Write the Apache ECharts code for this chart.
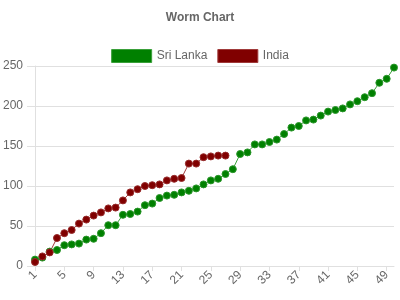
<!DOCTYPE html>
<html>
<head>
<meta charset="utf-8">
<script src="https://cdn.jsdelivr.net/npm/echarts@6/dist/echarts.min.js"></script>
<style>html,body{margin:0;padding:0;background:#fff}#c{width:400px;height:300px}</style>
</head>
<body>
<div id="c"></div>
<script>
const overs = Array.from({length: 50}, (_, i) => String(i + 1));
const sriLanka = [8, 10.5, 18, 20, 26, 27, 28, 33, 34, 41, 51, 51, 64, 65, 68, 76, 78, 85, 88, 89, 92, 94, 97, 102, 107, 109, 115, 121, 140, 142, 152, 152, 155, 158, 165, 173, 175, 182, 183, 188, 193, 195, 197, 202, 206, 211, 216, 229, 234, 248];
const india = [5, 12, 17, 35, 41, 45, 53, 58, 63, 67, 72, 73, 82, 92, 96, 100, 101, 102, 107, 109, 110, 128, 128, 136, 137, 138, 138];
const seriesNames = ['Sri Lanka', 'India'];
const yTicks = [0, 50, 100, 150, 200, 250];

const chart = echarts.init(document.getElementById('c'), null, {renderer: 'canvas'});
const font = 'Liberation Sans, Arial, Helvetica, sans-serif';
chart.setOption({
  animation: false,
  title: {
    text: 'Worm Chart', left: 'center', top: 7,
    textStyle: {fontFamily: font, fontSize: 12, fontWeight: 'bold', color: '#666'}
  },
  legend: {
    top: 44, left: 'center', itemWidth: 40, itemHeight: 13, itemGap: 10,
    textStyle: {fontFamily: font, fontSize: 12, color: '#666'},
    data: [
      {name: seriesNames[0], icon: 'rect', itemStyle: {color: '#008000', borderColor: '#3aa03a', borderWidth: 1}},
      {name: seriesNames[1], icon: 'rect', itemStyle: {color: '#800000', borderColor: '#a03a3a', borderWidth: 1}}
    ]
  },
  grid: {left: 35, right: 6, top: 66, bottom: 34, containLabel: false},
  xAxis: {
    type: 'category', data: overs, boundaryGap: false,
    axisLine: {show: true, lineStyle: {color: '#e0e0e0'}},
    axisTick: {show: true, interval: 3, length: 5, lineStyle: {color: '#e0e0e0'}},
    axisLabel: {interval: 3, rotate: 45, margin: 7, fontFamily: font, fontSize: 12, color: '#666'},
    splitLine: {show: false}
  },
  yAxis: {
    type: 'value', min: yTicks[0], max: yTicks[yTicks.length - 1], interval: 50,
    axisLine: {show: true, lineStyle: {color: '#e0e0e0'}},
    axisTick: {show: true, length: 8, lineStyle: {color: '#e0e0e0'}},
    axisLabel: {margin: 12, fontFamily: font, fontSize: 12, color: '#666'},
    splitLine: {show: true, lineStyle: {color: '#e0e0e0'}}
  },
  series: [
    {
      name: seriesNames[0], type: 'line', data: sriLanka,
      symbol: 'circle', symbolSize: 7, showAllSymbol: true,
      lineStyle: {width: 1, color: '#3aa03a'},
      itemStyle: {color: '#008000', borderColor: '#2a962a', borderWidth: 1}
    },
    {
      name: seriesNames[1], type: 'line', data: india,
      symbol: 'circle', symbolSize: 7, showAllSymbol: true,
      lineStyle: {width: 1, color: '#a03a3a'},
      itemStyle: {color: '#800000', borderColor: '#962a2a', borderWidth: 1}
    }
  ]
});
</script>
</body>
</html>
